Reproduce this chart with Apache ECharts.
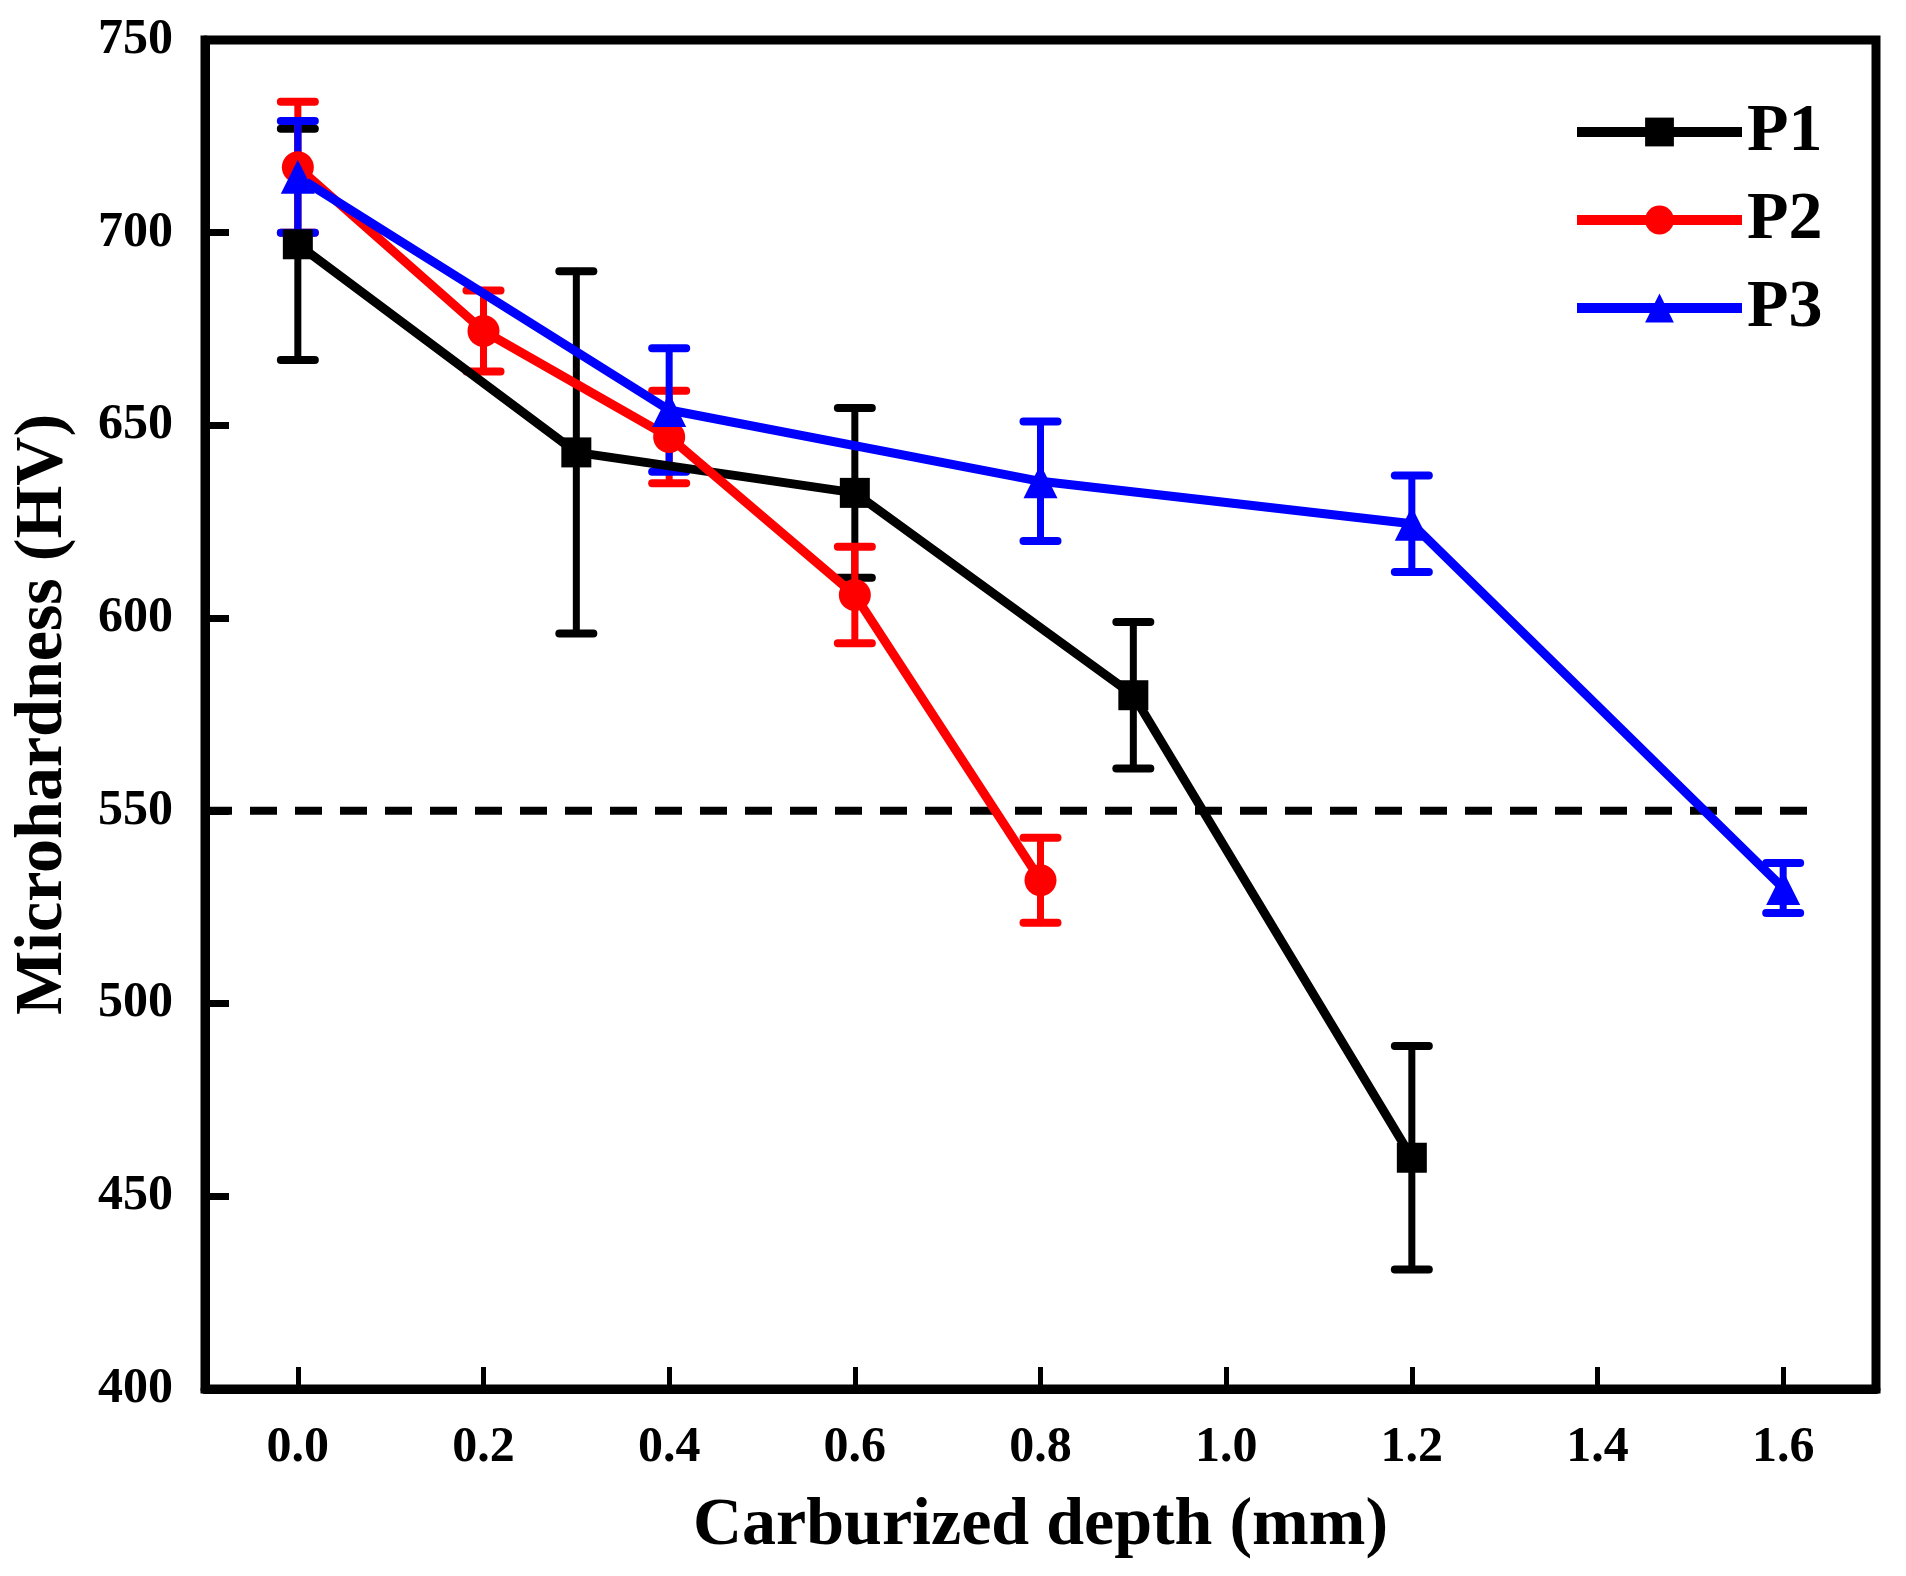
<!DOCTYPE html>
<html>
<head>
<meta charset="utf-8">
<script src="https://cdn.jsdelivr.net/npm/echarts@6/dist/echarts.min.js"></script>
<style>
  html, body { margin: 0; padding: 0; background: #fff; }
  #chart { width: 1906px; height: 1576px; }
</style>
</head>
<body>
<div id="chart"></div>
<script>
// depth (mm) and microhardness (HV) with +/- error
var xP1 = [0, 0.3, 0.6, 0.9, 1.2];
var yP1 = [697, 643, 632.5, 580, 460];
var eP1 = [30, 47, 22, 19, 29];

var xP2 = [0, 0.2, 0.4, 0.6, 0.8];
var yP2 = [717, 674.5, 647, 606, 532];
var eP2 = [17, 10.5, 12, 12.5, 11];

var xP3 = [0, 0.4, 0.8, 1.2, 1.6];
var yP3 = [714.5, 654, 635.5, 624.5, 530];
var eP3 = [14.5, 16, 15.5, 12.5, 6.5];

var refX = [-0.1, 1.64];
var refY = [550, 550];

var xTicks = [0, 0.2, 0.4, 0.6, 0.8, 1.0, 1.2, 1.4, 1.6];

var font = "'Times New Roman', 'Liberation Serif', serif";

function pts(xs, ys) {
    return xs.map(function (x, i) { return [x, ys[i]]; });
}
function errs(xs, ys, es) {
    return xs.map(function (x, i) { return [x, ys[i] - es[i], ys[i] + es[i]]; });
}

function errRender(params, api) {
    var x = api.value(0);
    var lo = api.coord([x, api.value(1)]);
    var hi = api.coord([x, api.value(2)]);
    var c = api.visual('color');
    var hw = 17;
    var st = { stroke: c, lineWidth: 7, lineCap: 'round' };
    var cap = { stroke: c, lineWidth: 8, lineCap: 'round' };
    return {
        type: 'group',
        children: [
            { type: 'line', shape: { x1: lo[0], y1: lo[1], x2: hi[0], y2: hi[1] }, style: st },
            { type: 'line', shape: { x1: hi[0] - hw, y1: hi[1], x2: hi[0] + hw, y2: hi[1] }, style: cap },
            { type: 'line', shape: { x1: lo[0] - hw, y1: lo[1], x2: lo[0] + hw, y2: lo[1] }, style: cap }
        ]
    };
}

function lineSeries(name, color, symbol, size, data) {
    return {
        name: name,
        type: 'line',
        data: data,
        symbol: symbol,
        symbolSize: size,
        color: color,
        lineStyle: { width: 9, color: color },
        itemStyle: { color: color },
        z: 3
    };
}
function errSeries(name, color, data) {
    return {
        name: name,
        type: 'custom',
        data: data,
        renderItem: errRender,
        itemStyle: { color: color },
        z: 3
    };
}

var option = {
    backgroundColor: '#fff',
    animation: false,
    grid: {
        left: 205, right: 30, top: 40, bottom: 187,
        outerBoundsMode: 'none',
        containLabel: false,
        show: true, borderColor: '#000', borderWidth: 9, backgroundColor: 'transparent'
    },
    legend: {
        data: ['P1', 'P2', 'P3'],
        orient: 'vertical',
        left: 1567,
        top: 92,
        itemWidth: 165,
        itemHeight: 36,
        itemGap: 18,
        lineStyle: { width: 10 },
        textStyle: { fontFamily: font, fontWeight: 'bold', fontSize: 68, lineHeight: 70, color: '#000' }
    },
    xAxis: {
        type: 'value',
        min: -0.1,
        max: 1.7,
        name: 'Carburized depth (mm)',
        nameLocation: 'middle',
        nameGap: 103,
        nameTextStyle: { fontFamily: font, fontWeight: 'bold', fontSize: 68, color: '#000' },
        axisLine: { show: true, onZero: false, lineStyle: { color: '#000', width: 9 } },
        axisTick: { show: true, inside: true, length: 22, customValues: xTicks, lineStyle: { color: '#000', width: 5 } },
        axisLabel: {
            customValues: xTicks,
            margin: 34,
            fontFamily: font, fontWeight: 'bold', fontSize: 50, color: '#000',
            formatter: function (v) { return Number(v).toFixed(1); }
        },
        splitLine: { show: false }
    },
    yAxis: {
        type: 'value',
        min: 400,
        max: 750,
        interval: 50,
        name: 'Microhardness (HV)',
        nameLocation: 'middle',
        nameRotate: 90,
        nameGap: 128,
        nameTextStyle: { fontFamily: font, fontWeight: 'bold', fontSize: 68, color: '#000' },
        axisLine: { show: true, onZero: false, lineStyle: { color: '#000', width: 9 } },
        axisTick: { show: true, inside: true, length: 24, lineStyle: { color: '#000', width: 7 } },
        axisLabel: { margin: 32, fontFamily: font, fontWeight: 'bold', fontSize: 50, color: '#000' },
        splitLine: { show: false }
    },
    series: [
        {
            name: 'ref',
            type: 'line',
            data: pts(refX, refY),
            symbol: 'none',
            silent: true,
            lineStyle: { color: '#000', width: 8, type: [27, 18] },
            z: 2
        },
        lineSeries('P1', '#000000', 'rect', 30, pts(xP1, yP1)),
        errSeries('P1 err', '#000000', errs(xP1, yP1, eP1)),
        lineSeries('P2', '#ff0000', 'circle', 32, pts(xP2, yP2)),
        errSeries('P2 err', '#ff0000', errs(xP2, yP2, eP2)),
        lineSeries('P3', '#0000ff', 'triangle', 34, pts(xP3, yP3)),
        errSeries('P3 err', '#0000ff', errs(xP3, yP3, eP3))
    ]
};

var chart = echarts.init(document.getElementById('chart'));
chart.setOption(option);
</script>
</body>
</html>
